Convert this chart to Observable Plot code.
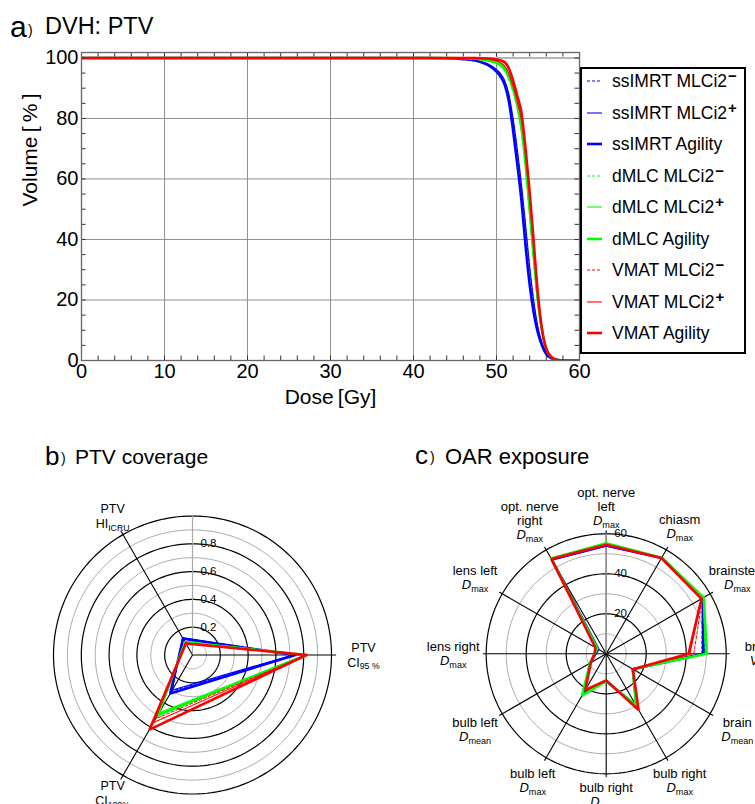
<!DOCTYPE html>
<html><head><meta charset="utf-8">
<script src="https://cdn.jsdelivr.net/npm/d3@7"></script>
<script src="https://cdn.jsdelivr.net/npm/@observablehq/plot@0.6"></script>
<style>
html,body{margin:0;padding:0;background:#fff;overflow:hidden}
#root{position:relative;width:755px;height:804px;font-family:"Liberation Sans",Arial,Helvetica,sans-serif;color:#000}
.abs{position:absolute}
</style></head><body><div id="root"></div>
<script>
const FONT = '"Liberation Sans", Arial, Helvetica, sans-serif';

// ---------- series ----------
const techniques = ["ssIMRT", "dMLC", "VMAT"];
const techColors = ["#0000ff", "#00ff00", "#ff0000"];
const collimators = ["MLCi2", "MLCi2", "Agility"];
const collimatorSup = ["−", "+", ""];

// ---------- a) DVH ----------
const doseGrid = [0,40,44,46,47,48,49,50,50.5,51,51.5,52,52.5,53,53.5,54,54.5,55,55.5,56,56.5,57,57.5,58,58.5,60];
const dvhSsimrtMinus  = [100,100,99.9,99.7,99.4,98.8,97.9,96,94.5,92,87.2,79,68.8,57,43.5,30,18.8,10.6,5.5,2.5,1,0.35,0.1,0,0,0];
const dvhSsimrtPlus   = [100,100,99.9,99.7,99.4,98.9,98,96.2,94.8,92.5,88,80,70,58.5,45,31,19.5,11,5.8,2.6,1.1,0.4,0.1,0,0,0];
const dvhSsimrtAgility= [100,100,99.9,99.6,99.3,98.7,97.6,95.5,93.8,91,85.5,76,65,53,38,25,15.5,9,4.8,2.1,0.9,0.3,0.1,0,0,0];
const dvhDmlcMinus    = [100,100,100,99.9,99.7,99.4,98.9,98,97,95.5,92.5,88.5,83,75,62.5,47,31.5,17.8,8.8,3.5,1.3,0.4,0.1,0,0,0];
const dvhDmlcPlus     = [100,100,100,99.9,99.7,99.5,99,98.2,97.3,95.8,93,89,83.5,75.5,63,47.5,32,18,9,3.6,1.3,0.45,0.1,0,0,0];
const dvhDmlcAgility  = [100,100,100,99.9,99.8,99.6,99.3,98.6,97.9,96.7,94,90.5,86,78.5,66.5,51,35,20,9.8,3.9,1.5,0.5,0.15,0,0,0];
const dvhVmatMinus    = [100,100,100,100,99.95,99.85,99.7,99.3,98.9,98.2,96,92,87,81,69.5,55,38.5,21.8,10.2,3.9,1.4,0.5,0.15,0.03,0,0];
const dvhVmatPlus     = [100,100,100,100,99.9,99.8,99.6,99,98.4,97.2,94.6,90.5,85.5,79.5,68.5,54,38,21.5,10.2,4,1.5,0.5,0.15,0.03,0,0];
const dvhVmatAgility  = [100,100,100,100,99.95,99.9,99.8,99.5,99.2,98.6,96.5,92.5,87.5,82,70,55.5,38.5,21.6,10,3.8,1.4,0.5,0.15,0.03,0,0];
const xTicks = [0,10,20,30,40,50,60];
const yTicks = [0,20,40,60,80,100];

// ---------- b) PTV coverage ----------
const ptvAxisLabels = [["PTV","CI_95 %"], ["PTV","HI_ICRU"], ["PTV","CI_100%"]];
const ptvSsimrtMinus   = [0.73, 0.14, 0.30];
const ptvSsimrtPlus    = [0.72, 0.145, 0.29];
const ptvSsimrtAgility = [0.74, 0.135, 0.32];
const ptvDmlcMinus     = [0.815, 0.11, 0.49];
const ptvDmlcPlus      = [0.815, 0.11, 0.48];
const ptvDmlcAgility   = [0.82, 0.105, 0.50];
const ptvVmatMinus     = [0.82, 0.10, 0.53];
const ptvVmatPlus      = [0.82, 0.10, 0.56];
const ptvVmatAgility   = [0.82, 0.095, 0.62];
const ptvRings = [0.1,0.2,0.3,0.4,0.5,0.6,0.7,0.8,0.9,1.0];
const ptvRingLabels = [0.2,0.4,0.6,0.8];

// ---------- c) OAR exposure ----------
const oarAxisLabels = [
  ["brain","V_12"], ["brainstem","D_max"], ["chiasm","D_max"], ["opt. nerve","left","D_max"],
  ["opt. nerve","right","D_max"], ["lens left","D_max"], ["lens right","D_max"], ["bulb left","D_mean"],
  ["bulb left","D_max"], ["bulb right","D_mean"], ["bulb right","D_max"], ["brain","D_mean"]
];
const oarSsimrtMinus   = [47.8,55.5,55.2,53.8,54.2,4.8,5.6,9.0,22.3,13.4,30.2,15.3];
const oarSsimrtPlus    = [48.3,55.6,55.3,54.0,54.3,4.7,5.5,9.1,22.5,13.5,30.0,15.3];
const oarSsimrtAgility = [48.8,55.7,55.3,54.2,54.4,4.6,5.4,9.2,22.8,13.6,30.5,15.4];
const oarDmlcMinus     = [49.5,56.0,55.4,55.0,54.8,5.3,5.8,9.3,23.5,13.6,29.8,15.2];
const oarDmlcPlus      = [49.8,56.1,55.4,55.1,54.9,5.2,5.8,9.3,23.8,13.5,29.6,15.2];
const oarDmlcAgility   = [50.3,56.3,55.5,55.3,55.0,5.1,5.9,9.4,24.2,13.6,29.9,15.3];
const oarVmatMinus     = [43.8,55.5,55.3,54.6,54.7,6.2,5.8,8.9,21.0,13.3,32.2,15.4];
const oarVmatPlus      = [41.8,55.2,55.3,54.5,54.7,6.3,5.8,8.9,21.2,13.3,32.3,15.4];
const oarVmatAgility   = [41.2,55.0,55.3,54.5,54.7,6.3,5.8,8.9,20.8,13.3,32.4,15.4];
const oarRings = [10,20,30,40,50,60];
const oarRingLabels = [20,40,60];

// ---------- assemble ----------
const dvhData = [[dvhSsimrtMinus,dvhSsimrtPlus,dvhSsimrtAgility],[dvhDmlcMinus,dvhDmlcPlus,dvhDmlcAgility],[dvhVmatMinus,dvhVmatPlus,dvhVmatAgility]];
const ptvData = [[ptvSsimrtMinus,ptvSsimrtPlus,ptvSsimrtAgility],[ptvDmlcMinus,ptvDmlcPlus,ptvDmlcAgility],[ptvVmatMinus,ptvVmatPlus,ptvVmatAgility]];
const oarData = [[oarSsimrtMinus,oarSsimrtPlus,oarSsimrtAgility],[oarDmlcMinus,oarDmlcPlus,oarDmlcAgility],[oarVmatMinus,oarVmatPlus,oarVmatAgility]];
const variantStyle = [
  {strokeWidth: 1, strokeDasharray: "3,2"},
  {strokeWidth: 1.1, strokeDasharray: null},
  {strokeWidth: 2.6, strokeDasharray: null}
];
const series = [];
techniques.forEach((t, ti) => collimators.forEach((c, ci) => series.push({
  name: `${t} ${c}${collimatorSup[ci]}`, tech: t, ti, ci, color: techColors[ti],
  dvh: dvhData[ti][ci], ptv: ptvData[ti][ci], oar: oarData[ti][ci]
})));

const root = document.getElementById("root");
function place(el, left, top) { el.style.position = "absolute"; el.style.left = left + "px"; el.style.top = top + "px"; root.appendChild(el); return el; }

function subscripts(svg) {
  d3.select(svg).selectAll("text").each(function () {
    if (this.childElementCount) return;
    const m = this.textContent.match(/^(.*?)_(.+)$/);
    if (!m) return;
    this.textContent = "";
    const ns = "http://www.w3.org/2000/svg";
    const a = document.createElementNS(ns, "tspan");
    a.textContent = m[1];
    if (m[1] === "D" || m[1] === "V") a.setAttribute("font-style", "italic");
    const b = document.createElementNS(ns, "tspan");
    b.textContent = m[2];
    b.setAttribute("font-size", "70%");
    b.setAttribute("dy", "0.32em");
    this.append(a, b);
  });
}

// ---------- Plot a ----------
{
  const W = 755, H = 420, mL = 81, mR = 176, mT = 52, mB = 60;
  const yTop = 101.8;
  const kx = 60 / (W - mL - mR), ky = yTop / (H - mT - mB);
  const tl = 4.5;
  const lines = series.map(s => Plot.line(s.dvh.map((v, i) => ({dose: doseGrid[i], vol: v})), {
    x: "dose", y: "vol", stroke: s.color, curve: "monotone-x", clip: true, ...variantStyle[s.ci]
  }));
  const p = Plot.plot({
    width: W, height: H, marginLeft: mL, marginRight: mR, marginTop: mT, marginBottom: mB,
    style: {fontFamily: FONT, background: "transparent", color: "#000", overflow: "visible"},
    x: {domain: [0, 60]}, y: {domain: [0, yTop]},
    marks: [
      Plot.ruleX([10,20,30,40,50], {stroke: "#8f8f8f", strokeWidth: 1}),
      Plot.ruleY([20,40,60,80], {stroke: "#8f8f8f", strokeWidth: 1}),
      Plot.ruleY([100], {stroke: "#b5b5b5", strokeWidth: 2}),
      ...lines,
      Plot.ruleX(d3.range(0, 61, 2), {y1: 0, y2: tl * ky, stroke: "#333"}),
      Plot.ruleX(d3.range(0, 61, 2), {y1: yTop - tl * ky, y2: yTop, stroke: "#333"}),
      Plot.ruleY(d3.range(0, 101, 5), {x1: 0, x2: tl * kx, stroke: "#333"}),
      Plot.ruleY(d3.range(0, 101, 5), {x1: 60 - tl * kx, x2: 60, stroke: "#333"}),
      Plot.frame({stroke: "#666", strokeWidth: 1.3}),
      Plot.axisX(xTicks, {tickSize: 0, tickPadding: 3, fontSize: 20, label: null}),
      Plot.axisY(yTicks, {tickSize: 0, tickPadding: 3, fontSize: 20, label: null}),
      Plot.text(["Dose\u2009[Gy]"], {frameAnchor: "bottom", dy: 43, fontSize: 21}),
      Plot.text(["Volume\u2009[\u2009%\u2009]"], {frameAnchor: "left", dx: -51, rotate: -90, fontSize: 21})
    ]
  });
  place(p, 0, 0);
}

// ---------- legend ----------
{
  const box = document.createElement("div");
  box.style.cssText = "width:162px;height:283px;border:2px solid #000;background:#fff;box-sizing:content-box";
  place(box, 580, 67);
  series.forEach((s, i) => {
    const row = document.createElement("div");
    row.style.cssText = `position:absolute;left:0;top:${12 + i * 31.5 - 12}px;height:24px;width:162px`;
    const st = variantStyle[s.ci];
    row.innerHTML = `<svg width="24" height="24" style="position:absolute;left:0;top:0"><line x1="5" x2="20" y1="12" y2="12" stroke="${s.color}" stroke-width="${st.strokeWidth}" ${st.strokeDasharray ? `stroke-dasharray="${st.strokeDasharray}"` : ""}/></svg>` +
      `<span style="position:absolute;left:30px;top:0;line-height:24px;font-size:17.5px;white-space:nowrap">${s.tech} ${collimators[s.ci]}${collimatorSup[s.ci] ? `<span style="font-size:15px;position:relative;top:-6px;margin-left:1px;font-weight:bold">${collimatorSup[s.ci]}</span>` : ""}</span>`;
    box.appendChild(row);
  });
}

// ---------- radar helper ----------
function radar({width, height, cx, cy, k, angles, data, rings, ringBlack, ringLabels, ringFmt, axisLen, grayLen, labels, labelR, lineH, labelSize}) {
  const xd = [-cx / k, (width - cx) / k], yd = [-(height - cy) / k, cy / k];
  const rad = a => a * Math.PI / 180;
  const circ = v => d3.range(0, 361, 2).map(a => ({x: v * Math.cos(rad(a)), y: v * Math.sin(rad(a))}));
  const ringMarks = rings.map(v => Plot.line(circ(v), {x: "x", y: "y", stroke: ringBlack(v) ? "#000" : "#ababab", strokeWidth: ringBlack(v) ? 1.2 : 1}));
  const axisRows = angles.flatMap((a, i) => [{i, x: 0, y: 0}, {i, x: axisLen * Math.cos(rad(a)), y: axisLen * Math.sin(rad(a))}]);
  const polyMarks = series.map(s => {
    const vals = data(s);
    const pts = vals.map((v, i) => ({x: v * Math.cos(rad(angles[i])), y: v * Math.sin(rad(angles[i]))}));
    pts.push(pts[0]);
    return Plot.line(pts, {x: "x", y: "y", stroke: s.color, strokeLinejoin: "miter", ...variantStyle[s.ci]});
  });
  const labelRows = [];
  labels.forEach((L, i) => {
    const a = rad(angles[i]);
    const R = labelR(angles[i], L.length);
    const bx = R * Math.cos(a), by = R * Math.sin(a);
    L.forEach((t, j) => labelRows.push({x: bx, y: by + ((L.length - 1) / 2 - j) * lineH, t}));
  });
  const p = Plot.plot({
    width, height, marginTop: 0, marginRight: 0, marginBottom: 0, marginLeft: 0,
    style: {fontFamily: FONT, background: "transparent", color: "#000"},
    x: {domain: xd, axis: null}, y: {domain: yd, axis: null},
    marks: [
      ...ringMarks,
      Plot.line(axisRows, {x: "x", y: "y", z: "i", stroke: "#000", strokeWidth: 1.1}),
      Plot.ruleX([0], {y1: 0, y2: grayLen, stroke: "#a8a8a8", strokeWidth: 1.2}),
      ...polyMarks,
      Plot.text(ringLabels, {x: 0, y: d => d, text: ringFmt, textAnchor: "start", dx: 8, fontSize: 11.5}),
      Plot.text(labelRows, {x: "x", y: "y", text: "t", textAnchor: "middle", fontSize: labelSize})
    ]
  });
  subscripts(p);
  return p;
}

// ---------- Plot b ----------
{
  const k = 139;
  const p = radar({
    width: 400, height: 334, cx: 192, cy: 184.5, k,
    angles: [0, 120, 240], data: s => s.ptv,
    rings: ptvRings, ringBlack: v => Math.round(v * 10) % 2 === 0,
    ringLabels: ptvRingLabels, ringFmt: d => d3.format(".1f")(d),
    axisLen: 1.03, grayLen: 1.0,
    labels: ptvAxisLabels,
    labelR: (a) => 1.07 + 0.16 * Math.abs(Math.cos(a * Math.PI / 180)),
    lineH: 15 / k, labelSize: 12.5
  });
  place(p, 0, 470);
}

// ---------- Plot c ----------
{
  const k = 2;
  const p = radar({
    width: 355, height: 334, cx: 205.7, cy: 183.3, k,
    angles: d3.range(0, 360, 30), data: s => s.oar,
    rings: oarRings, ringBlack: v => v % 20 === 0,
    ringLabels: oarRingLabels, ringFmt: d => d + ".",
    axisLen: 61.5, grayLen: 60,
    labels: oarAxisLabels,
    labelR: (a, n) => (141 + 12 * Math.abs(Math.cos(a * Math.PI / 180)) + (n - 2) * 6) / k,
    lineH: 14 / k, labelSize: 13
  });
  place(p, 400, 470);
}

// ---------- panel titles ----------
{
  const ns = "http://www.w3.org/2000/svg";
  const svg = document.createElementNS(ns, "svg");
  svg.setAttribute("width", 755); svg.setAttribute("height", 804);
  svg.style.cssText = "position:absolute;left:0;top:0;pointer-events:none;font-family:" + FONT;
  const titles = [
    {letter: "a", text: "DVH: PTV", lx: 10, lb: 37, ls: 30, px: 28, tx: 45, tb: 33.5, ts: 23.5},
    {letter: "b", text: "PTV coverage", lx: 45, lb: 465, ls: 26, px: 61, tx: 75, tb: 463.5, ts: 21},
    {letter: "c", text: "OAR exposure", lx: 415, lb: 463.5, ls: 26, px: 430, tx: 445, tb: 463.5, ts: 22}
  ];
  titles.forEach(t => {
    const add = (x, y, s, txt) => { const e = document.createElementNS(ns, "text"); e.setAttribute("x", x); e.setAttribute("y", y); e.setAttribute("font-size", s); e.textContent = txt; svg.appendChild(e); };
    add(t.lx, t.lb, t.ls, t.letter);
    add(t.px, t.lb - 2, 14, ")");
    add(t.tx, t.tb, t.ts, t.text);
  });
  root.appendChild(svg);
}
</script>
</body></html>
